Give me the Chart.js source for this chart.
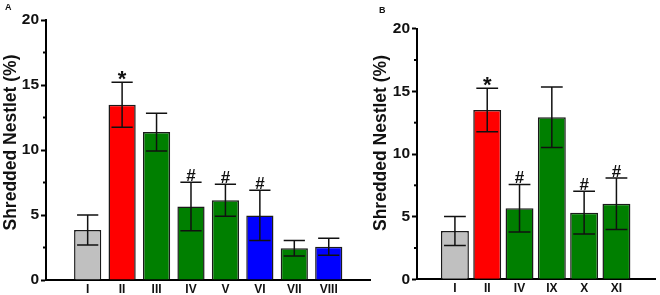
<!DOCTYPE html>
<html>
<head>
<meta charset="utf-8">
<script src="https://cdn.jsdelivr.net/npm/chart.js@4.4.0/dist/chart.umd.min.js"></script>
<style>
    html, body { margin: 0; padding: 0; background: #fff; }
    #wrap { position: relative; width: 660px; height: 295px; }
    #boxA { position: absolute; left: 0; top: 0; width: 372px; height: 295px; }
    #boxB { position: absolute; left: 372px; top: 0; width: 288px; height: 295px; }
    .panel { position: absolute; font: bold 9px "Liberation Sans", Arial, sans-serif; color: #111; }
</style>
</head>
<body>
<div id="wrap">
    <div id="boxA"><canvas id="chartA"></canvas></div>
    <div id="boxB"><canvas id="chartB"></canvas></div>
    <div class="panel" style="left:5px;top:2px">A</div>
    <div class="panel" style="left:379px;top:5px">B</div>
</div>
<script>
const GRAY = '#C0C0C0', RED = '#FF0000', GREEN = '#007F00', BLUE = '#0000FF';

// Panel A
const labelsA = ['I', 'II', 'III', 'IV', 'V', 'VI', 'VII', 'VIII'];
const meansA = [3.85, 13.48, 11.38, 5.65, 6.13, 4.97, 2.44, 2.56];
const errorsA = [1.15, 1.73, 1.45, 1.87, 1.23, 1.94, 0.60, 0.65];
const marksA = ['', '*', '', '#', '#', '#', '', ''];
const colorsA = [GRAY, RED, GREEN, GREEN, GREEN, BLUE, GREEN, BLUE];

// Panel B
const labelsB = ['I', 'II', 'IV', 'IX', 'X', 'XI'];
const meansB = [3.85, 13.51, 5.67, 12.93, 5.32, 6.03];
const errorsB = [1.16, 1.73, 1.90, 2.42, 1.70, 2.05];
const marksB = ['', '*', '#', '', '#', '#'];
const colorsB = [GRAY, RED, GREEN, GREEN, GREEN, GREEN];

const yTicks = [0, 5, 10, 15, 20];
const yMinorTicks = [2.5, 7.5, 12.5, 17.5];
const yTitle = 'Shredded Nestlet (%)';

const FONT = '"Liberation Sans", Arial, sans-serif';

function makeChart(id, labels, means, errors, marks, colors, geo) {
    // error bars, significance marks, minor ticks and the y title
    const extras = {
        id: 'extras',
        afterDatasetsDraw(chart) {
            const ctx = chart.ctx;
            const y = chart.scales.y;
            const bars = chart.getDatasetMeta(0).data;
            ctx.save();
            ctx.strokeStyle = '#111';
            ctx.lineWidth = 1.5;
            bars.forEach((bar, i) => {
                const top = y.getPixelForValue(means[i] + errors[i]);
                const bot = y.getPixelForValue(means[i] - errors[i]);
                const half = bar.width * 0.39;
                ctx.beginPath();
                ctx.moveTo(bar.x, top); ctx.lineTo(bar.x, bot);
                ctx.moveTo(bar.x - half, top); ctx.lineTo(bar.x + half, top);
                ctx.moveTo(bar.x - half, bot); ctx.lineTo(bar.x + half, bot);
                ctx.stroke();
                if (marks[i]) {
                    ctx.fillStyle = '#111';
                    ctx.textAlign = 'center';
                    ctx.textBaseline = 'alphabetic';
                    if (marks[i] === '*') {
                        ctx.font = 'bold 22px ' + FONT;
                        ctx.fillText('*', bar.x, top + 4);
                    } else {
                        ctx.font = 'bold 17px ' + FONT;
                        ctx.fillText('#', bar.x, top - 1);
                    }
                }
            });
            // minor ticks on the y axis
            const x0 = chart.chartArea.left;
            ctx.lineWidth = 2;
            ctx.strokeStyle = '#000';
            yMinorTicks.forEach(v => {
                const py = y.getPixelForValue(v);
                ctx.beginPath();
                ctx.moveTo(x0, py); ctx.lineTo(x0 - 3, py);
                ctx.stroke();
            });
            // y axis title
            ctx.translate(geo.titleX, geo.titleY);
            ctx.rotate(-Math.PI / 2);
            ctx.fillStyle = '#111';
            ctx.font = 'bold 17.5px ' + FONT;
            ctx.textAlign = 'center';
            ctx.textBaseline = 'middle';
            ctx.fillText(yTitle, 0, 0);
            ctx.restore();
        }
    };

    return new Chart(document.getElementById(id), {
        type: 'bar',
        data: {
            datasets: [{
                data: means.map((v, i) => ({ x: i, y: v })),
                backgroundColor: colors,
                borderColor: '#1a1a1a',
                borderWidth: 1.5,
                barPercentage: geo.barPct,
                categoryPercentage: 1,
            }]
        },
        options: {
            responsive: true,
            maintainAspectRatio: false,
            animation: false,
            layout: { padding: { top: geo.top, right: geo.right, left: 0, bottom: 0 } },
            plugins: { legend: { display: false }, tooltip: { enabled: false } },
            scales: {
                x: {
                    type: 'linear',
                    min: geo.xMin,
                    max: geo.xMax,
                    afterBuildTicks: s => { s.ticks = labels.map((_, i) => ({ value: i })); },
                    afterFit: s => { s.height = geo.xHeight; },
                    grid: { display: false, drawTicks: false },
                    border: { display: true, color: '#000', width: 2 },
                    ticks: {
                        callback: v => labels[v],
                        color: '#111',
                        padding: 2,
                        maxRotation: 0,
                        font: { family: FONT, size: 12, weight: 'bold' }
                    }
                },
                y: {
                    min: 0,
                    max: 20,
                    afterBuildTicks: s => { s.ticks = yTicks.map(v => ({ value: v })); },
                    afterFit: s => { s.width = geo.yWidth; },
                    grid: {
                        display: true,
                        drawOnChartArea: false,
                        tickLength: 5,
                        tickWidth: 2,
                        tickColor: '#000'
                    },
                    border: { display: true, color: '#000', width: 2 },
                    ticks: {
                        color: '#111',
                        padding: 2,
                        font: { family: FONT, size: 15.5, weight: 'bold' }
                    },
                    title: { display: false }
                }
            }
        },
        plugins: [extras]
    });
}

document.addEventListener('DOMContentLoaded', () => {
    makeChart('chartA', labelsA, meansA, errorsA, marksA, colorsA, {
        barPct: 0.79, xMin: -0.622, xMax: 7.61, top: 20, right: 2,
        xHeight: 15, yWidth: 46, titleX: 11.5, titleY: 142.5
    });
    makeChart('chartB', labelsB, meansB, errorsB, marksB, colorsB, {
        barPct: 0.865, xMin: -0.56, xMax: 5.58, top: 28.7, right: 5,
        xHeight: 15.7, yWidth: 45, titleX: 9.5, titleY: 143
    });
});
</script>
</body>
</html>
